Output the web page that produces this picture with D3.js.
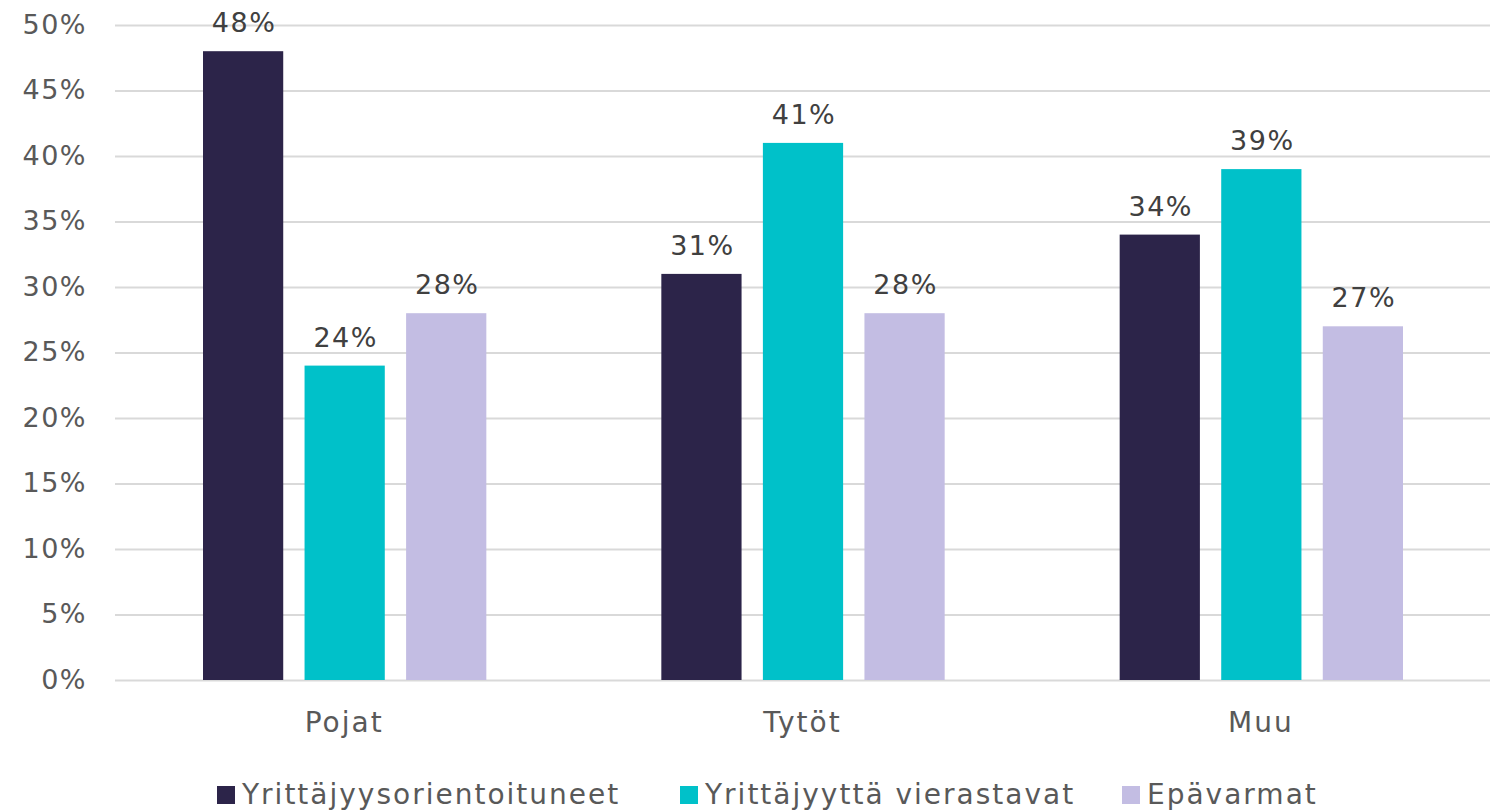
<!DOCTYPE html>
<meta charset="utf-8">
<style>
  body { margin: 0; background: #fff; font-family: 'DejaVu Sans', sans-serif; }
  .axis path { display: none; }
  .axis line { stroke: #d9d9d9; stroke-width: 2; }
  .axis text { fill: #595959; font-size: 27px; letter-spacing: 1.5px; font-family: 'DejaVu Sans', sans-serif; }
  .lbl { fill: #404040; font-size: 27px; letter-spacing: 1.5px; }
  .leg { fill: #595959; font-size: 28px; letter-spacing: 2px; }
</style>
<body>
<div id="chart"></div>
<script src="https://d3js.org/d3.v7.min.js"></script>
<script>
  // data
  var categories = ["Pojat", "Tytöt", "Muu"];
  var seriesNames = ["Yrittäjyysorientoituneet", "Yrittäjyyttä vierastavat", "Epävarmat"];
  var yrittajyysorientoituneet = [48, 31, 34];
  var vierastavat = [24, 41, 39];
  var epavarmat = [28, 28, 27];
  var yTicks = [0, 5, 10, 15, 20, 25, 30, 35, 40, 45, 50];
  var colors = ["#2c2449", "#00c1c9", "#c3bde3"];

  var series = [yrittajyysorientoituneet, vierastavat, epavarmat];

  var W = 1501, H = 812;
  var margin = { top: 25, right: 11, bottom: 132, left: 115 };
  var width = W - margin.left - margin.right,
      height = H - margin.top - margin.bottom;

  var svg = d3.select("#chart").append("svg")
    .attr("width", W).attr("height", H)
    .append("g")
    .attr("transform", "translate(" + margin.left + "," + margin.top + ")");

  var x0 = d3.scaleBand().domain(categories).range([0, width]).paddingInner(0).paddingOuter(0);
  var x1 = d3.scaleBand().domain(d3.range(series.length))
    .range([88, x0.bandwidth() - 87]).paddingInner(0.21);
  var y = d3.scaleLinear().domain([0, 50]).range([height, 0]);

  // gridlines + y labels
  var yAxis = svg.append("g").attr("class", "axis")
    .call(d3.axisLeft(y).tickValues(yTicks).tickSize(-width).tickPadding(28)
      .tickFormat(function(d) { return d + "%"; }));
  yAxis.selectAll(".tick text").attr("dy", "0.3em");

  // x labels
  svg.append("g").attr("class", "axis")
    .attr("transform", "translate(0," + height + ")")
    .call(d3.axisBottom(x0).tickSize(0).tickPadding(32))
    .selectAll("text").style("font-size", "28px").style("letter-spacing", "2px");

  // bars
  var groups = svg.selectAll(".grp").data(categories).enter().append("g")
    .attr("transform", function(d) { return "translate(" + x0(d) + ",0)"; });

  groups.each(function(cat, ci) {
    var g = d3.select(this);
    series.forEach(function(s, si) {
      g.append("rect")
        .attr("x", x1(si))
        .attr("y", y(s[ci]))
        .attr("width", x1.bandwidth())
        .attr("height", height - y(s[ci]))
        .style("fill", colors[si]);
      g.append("text")
        .attr("class", "lbl")
        .attr("x", x1(si) + x1.bandwidth() / 2 + 1)
        .attr("y", y(s[ci]) - 19)
        .attr("text-anchor", "middle")
        .text(s[ci] + "%");
    });
  });

  // legend (nudged up a little so descenders stay inside the picture)
  var legX = [217, 680, 1122];
  var leg = d3.select("svg").append("g");
  seriesNames.forEach(function(name, i) {
    leg.append("rect").attr("x", legX[i]).attr("y", 786).attr("width", 18).attr("height", 18)
      .style("fill", colors[i]);
    leg.append("text").attr("class", "leg").attr("x", legX[i] + 25).attr("y", 804).text(name);
  });
</script>
</body>
